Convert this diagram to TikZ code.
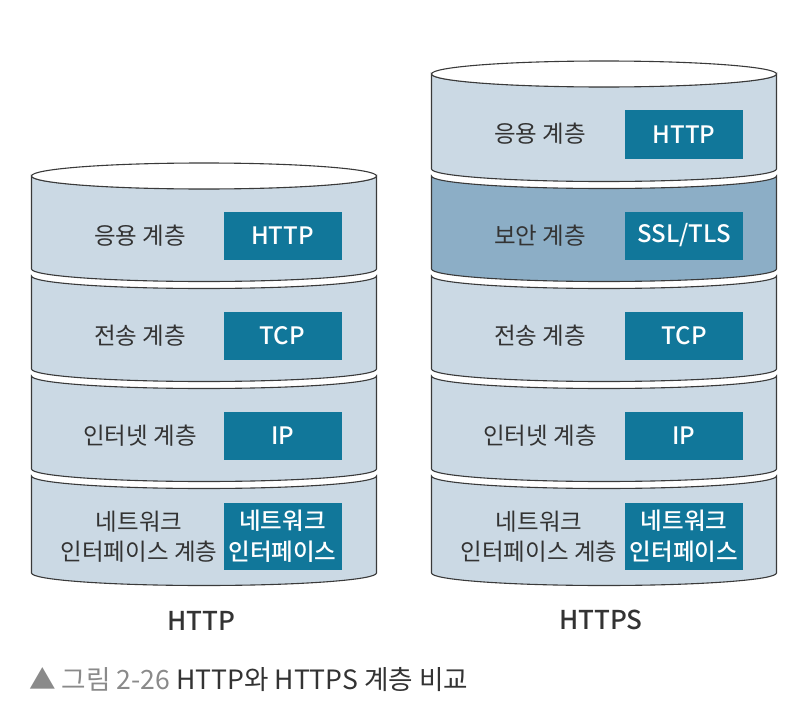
\documentclass[tikz,border=0pt]{standalone}
\usepackage{fontspec}
\setmainfont{Noto Sans CJK KR}[BoldFont={Noto Sans CJK KR Medium}]
\definecolor{layerfill}{HTML}{CBD9E4}
\definecolor{secfill}{HTML}{8CAEC6}
\definecolor{boxfill}{HTML}{11779A}
\definecolor{linec}{HTML}{3A3A3A}
\definecolor{textc}{HTML}{333333}
\definecolor{capgrey}{HTML}{8A8A8A}
\newcommand\mylayer[4]{%
  \filldraw[layerline, fill=#4] (#1-172.5,#2) -- (#1-172.5,#3)
    arc[start angle=180,end angle=0,x radius=172.5,y radius=12.5]
    -- (#1+172.5,#2)
    arc[start angle=0,end angle=180,x radius=172.5,y radius=12.5] -- cycle;}
\begin{document}
\begin{tikzpicture}[x=1pt,y=-1pt,
  layerline/.style={draw=linec, line width=1.1pt},
  lbl/.style={text=textc, font=\fontsize{23.5}{30}\selectfont, align=center, inner sep=0pt},
  box/.style={fill=boxfill, text=white, font=\bfseries\fontsize{24}{31}\selectfont, align=center, minimum width=118, inner sep=0pt},
  box2/.style={box, minimum height=67, font=\bfseries\fontsize{23.5}{31}\selectfont},
  stacklbl/.style={text=textc, font=\bfseries\fontsize{26}{30}\selectfont, inner sep=0pt}]
\useasboundingbox (0,0) rectangle (806,728);
% left stack
\mylayer{204}{476}{573}{layerfill}
\mylayer{204}{376}{469}{layerfill}
\mylayer{204}{276}{369}{layerfill}
\mylayer{204}{176}{269}{layerfill}
\filldraw[layerline, fill=white] (204,176) ellipse[x radius=172.5, y radius=13];
% right stack
\mylayer{604}{476}{573}{layerfill}
\mylayer{604}{376}{469}{layerfill}
\mylayer{604}{276}{369}{layerfill}
\mylayer{604}{176}{269}{secfill}
\mylayer{604}{74}{169}{layerfill}
\filldraw[layerline, fill=white] (604,74) ellipse[x radius=172.5, y radius=13];
% left labels and boxes
\node[lbl] (la) at (140,236) {응용 계층};
\node[box, minimum height=48] (lba) at (282.5,235.5) {HTTP};
\node[lbl] (lb) at (140,336) {전송 계층};
\node[box, minimum height=48] (lbb) at (282.5,335.5) {TCP};
\node[lbl] (lc) at (140,436) {인터넷 계층};
\node[box, minimum height=48] (lbc) at (282.5,435.5) {IP};
\node[lbl] (ld) at (139,537) {네트워크\\인터페이스 계층};
\node[box2] (lbd) at (282.5,536.5) {네트워크\\인터페이스};
% right labels and boxes
\node[lbl] (ra) at (540,134) {응용 계층};
\node[box, minimum height=49] (rba) at (684,134.5) {HTTP};
\node[lbl] (rb) at (540,236) {보안 계층};
\node[box, minimum height=48] (rbb) at (684,235.5) {SSL/TLS};
\node[lbl] (rc) at (540,336) {전송 계층};
\node[box, minimum height=48] (rbc) at (684,335.5) {TCP};
\node[lbl] (rd) at (540,436) {인터넷 계층};
\node[box, minimum height=48] (rbd) at (684,435.5) {IP};
\node[lbl] (re) at (539,537) {네트워크\\인터페이스 계층};
\node[box2] (rbe) at (684,536.5) {네트워크\\인터페이스};
% stack captions
\node[stacklbl] (lt) at (201,621) {HTTP};
\node[stacklbl] (rt) at (601,620) {HTTPS};
% figure caption
\node[anchor=west, inner sep=0pt, font=\fontsize{26.6}{30}\selectfont] (cap) at (29,680) {\textcolor{capgrey}{▲ 그림 2-26} \textcolor{textc}{HTTP와 HTTPS 계층 비교}};
\end{tikzpicture}
\end{document}
